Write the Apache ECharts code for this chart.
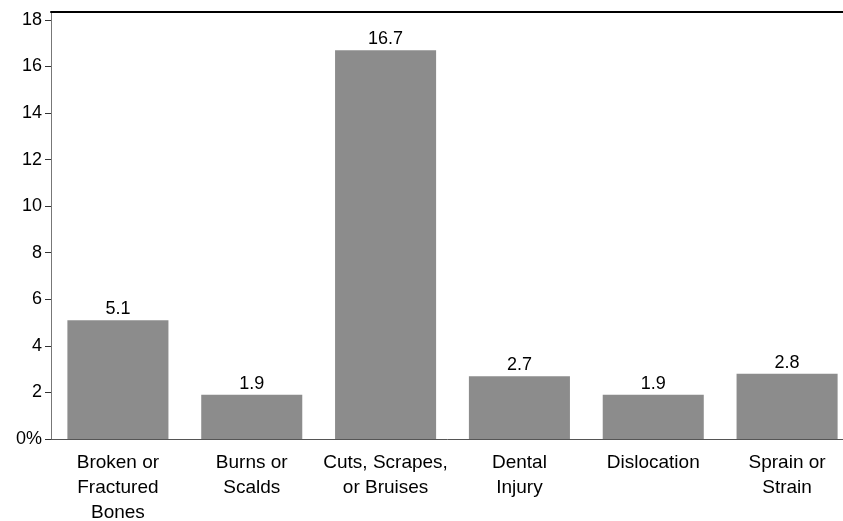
<!DOCTYPE html>
<html>
<head>
<meta charset="utf-8">
<script src="https://cdn.jsdelivr.net/npm/echarts@6/dist/echarts.min.js"></script>
<style>
  html, body { margin: 0; padding: 0; background: #fff; }
  #chart { width: 843px; height: 521px; }
</style>
</head>
<body>
<div id="chart"></div>
<script>
// injury types and share (%)
const categories = [
    'Broken or\nFractured\nBones',
    'Burns or\nScalds',
    'Cuts, Scrapes,\nor Bruises',
    'Dental\nInjury',
    'Dislocation',
    'Sprain or\nStrain'
];
const values = [5.1, 1.9, 16.7, 2.7, 1.9, 2.8];
const yTicks = [0, 2, 4, 6, 8, 10, 12, 14, 16, 18];

const font = '"Liberation Sans", Arial, Helvetica, sans-serif';

let myChart = echarts.init(document.getElementById('chart'));
let option = {
    animation: false,
    grid: { left: 51, right: -11, top: 12, bottom: 82, outerBoundsMode: 'none', containLabel: false },
    xAxis: [{
        type: 'category',
        data: categories,
        axisLine: { lineStyle: { color: '#555', width: 1 } },
        axisTick: { show: false },
        axisLabel: {
            color: '#000',
            fontSize: 19,
            fontFamily: font,
            lineHeight: 25,
            margin: 11,
            interval: 0
        }
    }, {
        // the black rule along the top of the plot
        type: 'category',
        position: 'top',
        data: categories,
        axisLine: { lineStyle: { color: '#000', width: 2 } },
        axisTick: { show: false },
        axisLabel: { show: false }
    }],
    yAxis: {
        type: 'value',
        min: 0,
        max: 18.34,
        splitLine: { show: false },
        axisLine: { show: true, lineStyle: { color: '#777', width: 1 } },
        axisTick: {
            show: true,
            length: 6,
            lineStyle: { color: '#333' },
            customValues: yTicks
        },
        axisLabel: {
            color: '#000',
            fontSize: 18,
            fontFamily: font,
            margin: 9,
            customValues: yTicks,
            formatter: v => v === 0 ? '0%' : String(v)
        }
    },
    series: [{
        type: 'bar',
        data: values,
        barCategoryGap: '24.5%',
        itemStyle: { color: '#8c8c8c' },
        label: {
            show: true,
            position: 'top',
            distance: 2,
            color: '#000',
            fontSize: 18,
            fontFamily: font,
            formatter: p => p.value.toFixed(1)
        }
    }]
};
myChart.setOption(option);
</script>
</body>
</html>
